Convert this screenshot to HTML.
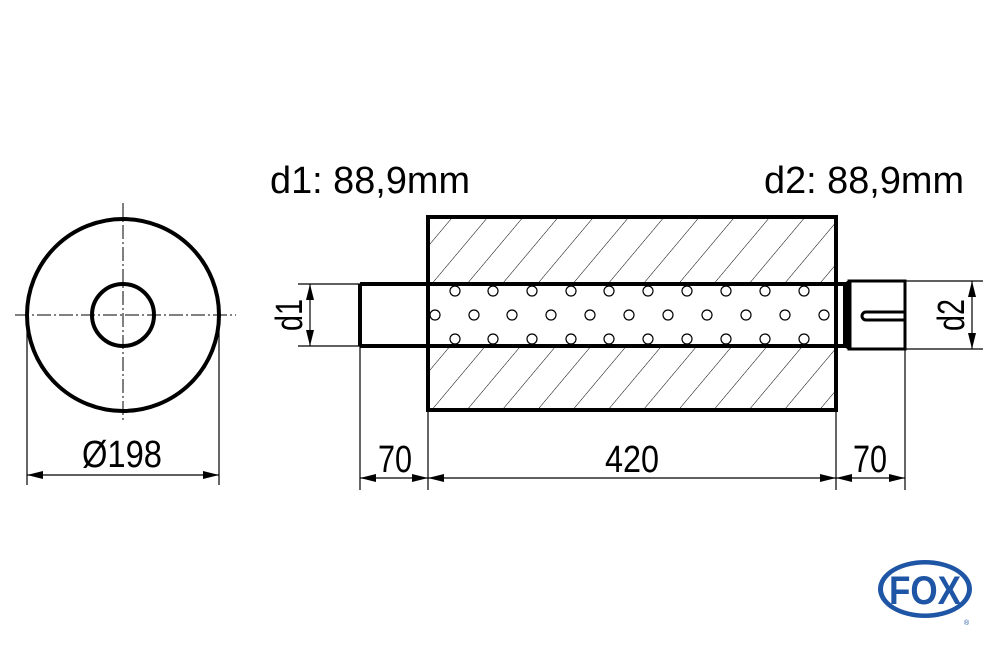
<!DOCTYPE html>
<html><head><style>body{margin:0;background:#fff}svg{display:block}</style></head><body>
<svg width="1000" height="645" viewBox="0 0 1000 645" xmlns="http://www.w3.org/2000/svg" font-family="Liberation Sans, sans-serif">
<defs>
<pattern id="h" patternUnits="userSpaceOnUse" width="27" height="27" patternTransform="rotate(40)">
<line x1="0" y1="0" x2="0" y2="27" stroke="#000" stroke-width="1"/>
</pattern>
<marker id="a" markerWidth="16" markerHeight="8" refX="16" refY="4" orient="auto-start-reverse" markerUnits="userSpaceOnUse"><path d="M0,0 L16,4 L0,8 Z" fill="#000"/></marker>
</defs>
<rect width="1000" height="645" fill="#fff"/>
<g stroke="#000" fill="none">
<line x1="123" y1="203" x2="123" y2="422" stroke-width="1" stroke-dasharray="14,3,2,3"/>
<line x1="15" y1="315" x2="236" y2="315" stroke-width="1" stroke-dasharray="14,3,2,3"/>
<circle cx="123" cy="315" r="96" stroke-width="4"/>
<circle cx="123" cy="315" r="31" stroke-width="4"/>
<line x1="27" y1="325" x2="27" y2="485" stroke-width="1.2"/>
<line x1="219" y1="325" x2="219" y2="485" stroke-width="1.2"/>
<line x1="27" y1="475" x2="219" y2="475" stroke-width="1.2" marker-start="url(#a)" marker-end="url(#a)"/>
</g>
<text x="122" y="467" font-size="38" text-anchor="middle" textLength="80" lengthAdjust="spacingAndGlyphs">Ø198</text>
<rect x="428" y="217" width="408" height="193" fill="url(#h)"/>
<rect x="428" y="284" width="408" height="62" fill="#fff"/>
<g stroke="#000" fill="none">
<rect x="428" y="217" width="408" height="193" stroke-width="4"/>
<line x1="360" y1="284" x2="848" y2="284" stroke-width="4"/>
<line x1="360" y1="346" x2="848" y2="346" stroke-width="4"/>
<line x1="360" y1="284" x2="360" y2="346" stroke-width="4"/>
<line x1="845" y1="284" x2="845" y2="346" stroke-width="4"/>
<rect x="849" y="281" width="56" height="68" stroke-width="3"/>
<line x1="849" y1="281" x2="849" y2="349" stroke-width="5"/>
<path d="M905,312 H866 a4,4 0 0 0 0,8 H905" stroke-width="3"/>
<g stroke-width="1.2">
<circle cx="455" cy="291" r="5"/><circle cx="493" cy="291" r="5"/><circle cx="532" cy="291" r="5"/><circle cx="571" cy="291" r="5"/><circle cx="609" cy="291" r="5"/><circle cx="648" cy="291" r="5"/><circle cx="687" cy="291" r="5"/><circle cx="726" cy="291" r="5"/><circle cx="765" cy="291" r="5"/><circle cx="804" cy="291" r="5"/>
<circle cx="455" cy="339" r="5"/><circle cx="493" cy="339" r="5"/><circle cx="532" cy="339" r="5"/><circle cx="571" cy="339" r="5"/><circle cx="609" cy="339" r="5"/><circle cx="648" cy="339" r="5"/><circle cx="687" cy="339" r="5"/><circle cx="726" cy="339" r="5"/><circle cx="765" cy="339" r="5"/><circle cx="804" cy="339" r="5"/>
<circle cx="435" cy="315" r="5"/><circle cx="474" cy="315" r="5"/><circle cx="512" cy="315" r="5"/><circle cx="551" cy="315" r="5"/><circle cx="590" cy="315" r="5"/><circle cx="629" cy="315" r="5"/><circle cx="668" cy="315" r="5"/><circle cx="707" cy="315" r="5"/><circle cx="746" cy="315" r="5"/><circle cx="785" cy="315" r="5"/><circle cx="824" cy="315" r="5"/>
</g>
<g stroke-width="1.2">
<line x1="298" y1="284" x2="360" y2="284"/><line x1="298" y1="346" x2="360" y2="346"/>
<line x1="310" y1="284" x2="310" y2="346" marker-start="url(#a)" marker-end="url(#a)"/>
<line x1="905" y1="281" x2="983" y2="281"/><line x1="905" y1="349" x2="983" y2="349"/>
<line x1="972" y1="281" x2="972" y2="349" marker-start="url(#a)" marker-end="url(#a)"/>
<line x1="360" y1="346" x2="360" y2="490"/>
<line x1="428" y1="410" x2="428" y2="490"/>
<line x1="836" y1="410" x2="836" y2="490"/>
<line x1="905" y1="349" x2="905" y2="490"/>
<line x1="360" y1="478" x2="428" y2="478" marker-start="url(#a)" marker-end="url(#a)"/>
<line x1="428" y1="478" x2="836" y2="478" marker-start="url(#a)" marker-end="url(#a)"/>
<line x1="836" y1="478" x2="905" y2="478" marker-start="url(#a)" marker-end="url(#a)"/>
</g>
</g>
<g font-size="38">
<text x="395" y="472" text-anchor="middle" textLength="34" lengthAdjust="spacingAndGlyphs">70</text>
<text x="632" y="472" text-anchor="middle" textLength="54" lengthAdjust="spacingAndGlyphs">420</text>
<text x="870" y="472" text-anchor="middle" textLength="34" lengthAdjust="spacingAndGlyphs">70</text>
<text x="270" y="193" textLength="200" lengthAdjust="spacingAndGlyphs">d1: 88,9mm</text>
<text x="764" y="193" textLength="200" lengthAdjust="spacingAndGlyphs">d2: 88,9mm</text>
<text transform="translate(302,315) rotate(-90)" text-anchor="middle" textLength="32" lengthAdjust="spacingAndGlyphs">d1</text>
<text transform="translate(964,315) rotate(-90)" text-anchor="middle" textLength="32" lengthAdjust="spacingAndGlyphs">d2</text>
</g>
<ellipse cx="925" cy="589" rx="47" ry="29" fill="#1f55a5"/>
<ellipse cx="925" cy="589" rx="42" ry="24.5" fill="#fff"/>
<text x="925" y="604" font-size="40" font-weight="bold" fill="#1f55a5" text-anchor="middle" textLength="72" lengthAdjust="spacingAndGlyphs">FOX</text>
<text x="964" y="625" font-size="7" fill="#1f55a5">®</text>
</svg>
</body></html>
